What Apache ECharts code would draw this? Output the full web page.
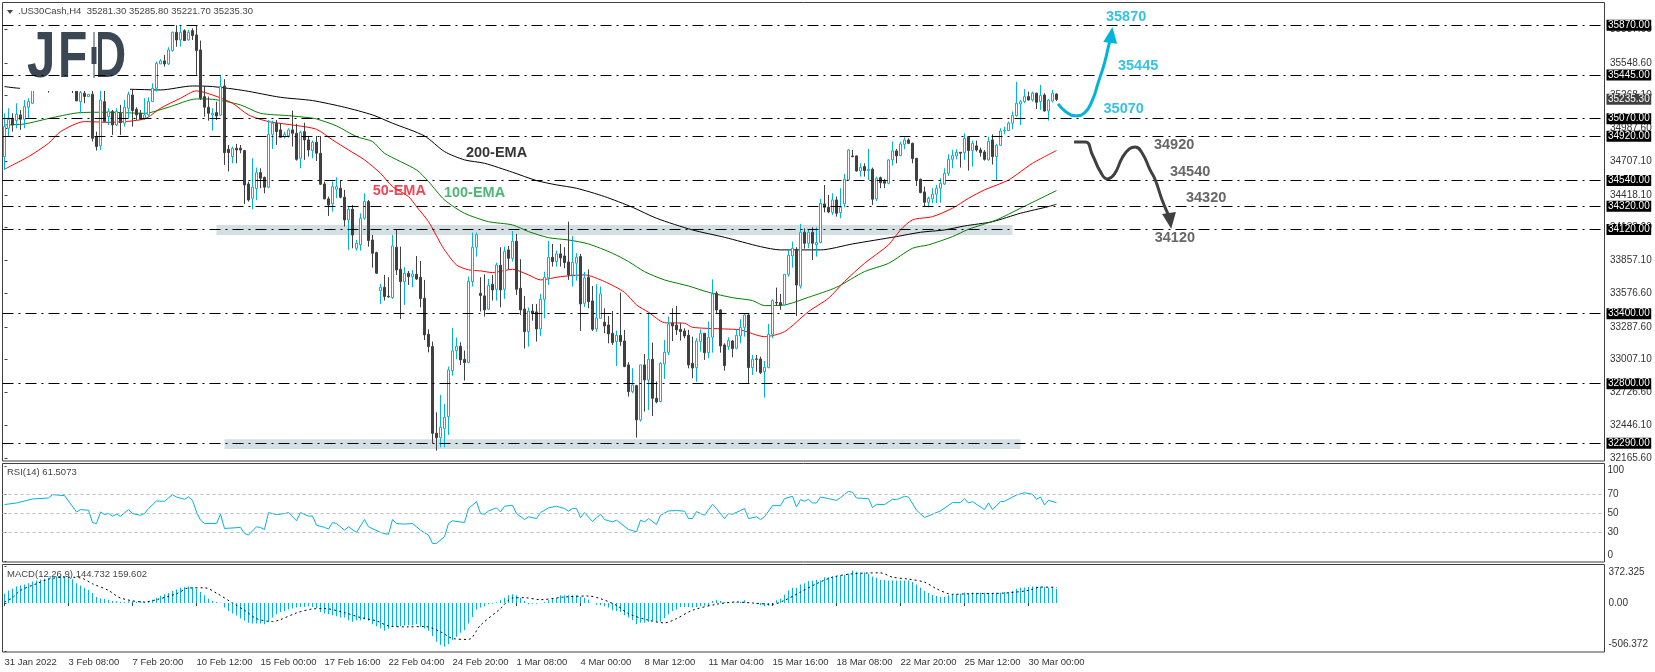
<!DOCTYPE html>
<html>
<head>
<meta charset="utf-8">
<script src="https://cdn.jsdelivr.net/npm/echarts@6/dist/echarts.min.js"></script>
<style>
  html, body { margin: 0; padding: 0; background: #fff; }
  #chart { width: 1655px; height: 672px; }
</style>
</head>
<body>
<div id="chart"></div>
<script>
const FONT = "'Liberation Sans',sans-serif"
const CYAN = '#00b4dc'
const DARK = '#404040'

const dateLabels = ['31 Jan 2022', '3 Feb 08:00', '7 Feb 20:00', '10 Feb 12:00', '15 Feb 00:00', '17 Feb 16:00', '22 Feb 04:00', '24 Feb 20:00', '1 Mar 08:00', '4 Mar 00:00', '8 Mar 12:00', '11 Mar 04:00', '15 Mar 16:00', '18 Mar 08:00', '22 Mar 20:00', '25 Mar 12:00', '30 Mar 00:00']

const priceTicks = [35837.6, 35548.6, 35268.1, 34987.6, 34707.1, 34418.1, 34138.6, 33857.1, 33576.6, 33287.6, 33007.1, 32726.6, 32446.1, 32165.6]
const levels = [35870, 35445, 35070, 34920, 34540, 34320, 34120, 33400, 32800, 32290]
const lastPrice = 35235.3

// open, close, low, high
const candles = [
  [34745,35002,34631,35116],[34988,35065,34916,35159],[35073,35016,34959,35116],[35053,35108,34988,35202],
  [35102,35065,34974,35145],[35065,35173,34988,35230],[35168,35216,35073,35245],[35202,35316,35196,35373],
  [35400,35350,35330,35440],[35360,35410,35335,35450],[35410,35370,35340,35440],[35380,35330,35293,35410],
  [35340,35390,35325,35420],[35390,35350,35330,35430],[35360,35420,35340,35450],[35420,35380,35350,35450],
  [35390,35350,35325,35420],[35360,35325,35290,35400],[35316,35222,35222,35330],[35216,35293,35116,35316],
  [35288,35259,35202,35316],[35259,35279,35259,35279],[35279,34902,34874,35316],[34916,34831,34797,34959],
  [34837,35230,34802,35316],[35216,35045,35045,35316],[35088,35131,35016,35159],[35131,35016,34931,35145],
  [35016,35131,35008,35159],[35116,35036,34931,35188],[35031,35168,35002,35230],[35159,35279,35073,35302],
  [35273,35139,35002,35316],[35151,35102,35059,35168],[35116,35065,35065,35145],[35073,35102,35059,35245],
  [35102,35216,35088,35253],[35216,35330,35216,35373],[35330,35545,35302,35559],[35539,35565,35539,35579],
  [35565,35539,35516,35616],[35539,35659,35530,35682],[35653,35810,35644,35816],[35810,35744,35687,35870],
  [35744,35810,35687,35870],[35824,35739,35739,35836],[35744,35810,35739,35830],[35824,35782,35744,35844],
  [35787,35653,35445,35870],[35659,35245,35230,35739],[35259,35168,35088,35350],[35168,35116,35053,35259],
  [35102,35116,34968,35159],[35122,35093,35059,35216],[35099,35345,35093,35445],[35350,34779,34674,35408],
  [34808,34779,34617,34845],[34745,34817,34688,34831],[34817,34802,34688,34854],[34817,34802,34774,34845],
  [34797,34502,34340,34802],[34511,34374,34360,34531],[34388,34483,34294,34731],[34471,34608,34374,34651],
  [34608,34560,34474,34645],[34568,34483,34431,34574],[34483,34936,34474,35059],[34936,35031,34811,35053],
  [35031,34959,34845,35059],[34974,34911,34911,35031],[34916,34936,34902,34959],[34922,34974,34908,34988],
  [34974,34945,34831,35139],[34945,34722,34711,35025],[34731,34951,34645,34968],[34959,34888,34717,35036],
  [34888,34802,34745,34922],[34797,34868,34731,34882],[34868,34774,34708,34922],[34774,34508,34502,34922],
  [34511,34383,34380,34531],[34383,34331,34237,34403],[34340,34488,34274,34531],[34465,34488,34388,34568],
  [34474,34397,34388,34545],[34397,34203,34146,34460],[34203,34294,33946,34317],[34294,34074,33960,34331],
  [33960,34003,33940,34031],[33989,34217,33940,34260],[34217,34360,34203,34431],[34360,34026,33974,34374],
  [34031,33917,33794,34074],[33923,33746,33740,33931],[33597,33626,33483,33655],[33626,33546,33512,33732],
  [33549,33543,33537,33712],[33537,33980,33526,34074],[33969,33774,33732,34123],[33780,33675,33355,33974],
  [33675,33746,33475,33797],[33746,33717,33646,33766],[33717,33740,33626,33774],[33737,33697,33689,33894],
  [33712,33529,33455,33851],[33532,33218,33175,33689],[33223,33118,33069,33266],[33118,32375,32290,33161],
  [32375,32338,32227,32555],[32338,32427,32256,32704],[32418,32513,32256,32627],[32518,32918,32361,32947],
  [32912,33081,32869,33278],[33084,33121,33009,33195],[33121,33004,32961,33155],[33009,32981,32827,33084],
  [32981,33677,32975,33717],[33675,33969,33632,34094],[33969,34077,33889,34094],[33575,33555,33418,33712],
  [33552,33432,33375,33737],[33438,33643,33432,33697],[33652,33603,33512,33732],[33609,33817,33512,33837],
  [33814,33603,33455,33969],[33609,33934,33526,33974],[33946,33874,33780,33980],[33874,34020,33846,34108],
  [34020,33609,33560,34083],[33617,33432,33389,33866],[33440,33246,33101,33552],[33246,33423,33118,33452],
  [33423,33403,33340,33483],[33415,33269,33161,33483],[33269,33523,33209,33569],[33523,33712,33360,33760],
  [33706,33883,33646,34023],[33883,33846,33803,33997],[33846,33912,33803,33940],[33912,33877,33803,33997],
  [33894,33837,33789,33969],[33843,33732,33689,34188],[33732,33840,33632,34066],[33832,33883,33683,33917],
  [33889,33483,33252,33912],[33489,33706,33455,33757],[33712,33503,33446,33780],[33509,33266,33252,33637],
  [33269,33363,33246,33652],[33360,33569,33360,33632],[33326,33295,33232,33446],[33303,33226,33146,33380],
  [33232,33152,33132,33423],[33161,33215,32952,33255],[33215,33161,33124,33580],[33166,32947,32941,33261],
  [32961,32732,32690,32984],[32732,32790,32718,32932],[32784,32490,32338,32790],[32490,32961,32476,32961],
  [32961,32832,32561,33055],[32832,33009,32575,33403],[33009,32675,32524,33152],[32675,32644,32632,32818],
  [32647,32975,32641,32984],[32969,33069,32841,33175],[33069,33312,33046,33375],[33318,33295,33166,33446],
  [33303,33261,33218,33466],[33266,33246,33169,33318],[33252,33209,33189,33275],[33215,32961,32932,33261],
  [32975,32935,32847,33203],[32938,33166,32818,33189],[33161,33232,33075,33266],[33232,33066,33004,33232],
  [33066,33198,33018,33332],[33198,33569,33066,33694],[33575,33432,33403,33592],[33432,33124,33066,33438],
  [33132,32955,32912,33146],[33118,33169,33089,33198],[33166,33101,33026,33175],[33104,33215,33095,33266],
  [33209,33283,33146,33352],[33283,33389,33203,33403],[33389,32938,32804,33398],[32938,33009,32875,33046],
  [33012,33009,32903,33046],[33012,32895,32884,33032],[32904,32941,32681,32995],[32938,33223,32932,33312],
  [33223,33512,33189,33523],[33497,33492,33466,33623],[33495,33472,33432,33569],[33475,33737,33466,33740],
  [33737,33900,33717,33946],[33894,33960,33794,34017],[33951,33646,33380,33969],[33637,34097,33615,34169],
  [34097,34003,33957,34131],[34003,34097,33960,34117],[34097,34003,33860,34140],[33989,34009,33889,34140],
  [34009,34345,34003,34383],[34340,34311,34268,34502],[34311,34271,34260,34417],[34268,34374,34246,34431],
  [34374,34260,34231,34403],[34265,34311,34217,34474],[34340,34551,34311,34597],[34545,34802,34540,34808],
  [34751,34745,34739,34802],[34751,34622,34617,34754],[34622,34651,34574,34688],[34660,34625,34574,34688],
  [34625,34637,34545,34811],[34637,34380,34331,34651],[34383,34560,34365,34574],[34565,34522,34474,34574],
  [34534,34517,34474,34554],[34517,34717,34508,34722],[34717,34794,34668,34874],[34794,34751,34688,34811],
  [34754,34854,34748,34874],[34851,34888,34808,34911],[34888,34859,34854,34902],[34859,34728,34688,34865],
  [34731,34545,34494,34731],[34551,34437,34431,34557],[34443,34354,34317,34488],[34354,34388,34311,34403],
  [34383,34423,34346,34474],[34423,34474,34346,34502],[34474,34517,34351,34560],[34511,34602,34502,34645],
  [34602,34722,34580,34765],[34722,34754,34645,34802],[34751,34782,34722,34808],[34782,34774,34651,34782],
  [34779,34902,34717,34945],[34916,34797,34625,34922],[34797,34859,34660,34882],[34837,34802,34788,34882],
  [34802,34779,34745,34822],[34785,34722,34711,34802],[34717,34876,34711,34916],[34888,34745,34677,34936],
  [34745,34842,34545,34854],[34842,34965,34837,34988],[34965,34971,34936,35002],[34968,35031,34965,35045],
  [35031,35099,34979,35131],[35096,35202,35088,35385],[35196,35216,35016,35230],[35216,35259,35202,35322],
  [35259,35230,35225,35302],[35230,35288,35216,35302],[35288,35210,35153,35293],[35216,35268,35145,35359],
  [35273,35136,35131,35288],[35136,35230,35053,35239],[35222,35288,35208,35316],[35281.3,35235.3,35221.7,35285.8]
]

// bar index, price
const ema50 = [[0,34637],[6,34745],[11,34859],[14,34959],[20,35045],[26,35039],[35,35068],[39,35159],[44,35245],[48,35308],[52,35273],[57,35202],[61,35102],[66,35045],[72,35016],[78,34979],[82,34888],[86,34802],[90,34717],[94,34602],[97,34488],[101,34403],[103,34317],[106,34188],[109,34003],[110,33946],[113,33817],[116,33775],[119,33766],[122,33752],[127,33780],[131,33732],[134,33689],[139,33717],[145,33732],[150,33675],[155,33583],[158,33475],[161,33412],[165,33323],[170,33318],[172,33283],[180,33269],[184,33261],[190,33203],[195,33246],[201,33418],[206,33532],[210,33675],[215,33831],[221,33989],[224,34117],[227,34203],[232,34231],[237,34303],[241,34388],[245,34460],[251,34545],[257,34688],[263,34797]]
const ema100 = [[0,35016],[5,35025],[12,35079],[19,35122],[26,35125],[35,35116],[41,35168],[48,35239],[52,35236],[59,35188],[64,35116],[71,35096],[76,35079],[78,35068],[83,35008],[88,34916],[92,34874],[95,34774],[103,34631],[106,34531],[110,34374],[115,34260],[121,34188],[127,34160],[131,34103],[136,34051],[141,34031],[146,33997],[152,33917],[156,33846],[160,33760],[165,33689],[171,33637],[176,33583],[182,33537],[187,33512],[190,33469],[195,33475],[201,33540],[208,33626],[215,33760],[221,33831],[227,33960],[231,33989],[237,34060],[241,34123],[248,34203],[254,34303],[263,34454]]
const ema200 = [[0,35345],[4,35330],[31,35322],[39,35316],[47,35350],[52,35345],[60,35310],[69,35253],[77,35225],[85,35168],[92,35102],[97,35031],[105,34922],[110,34788],[115,34717],[120,34688],[127,34611],[133,34540],[138,34503],[143,34474],[150,34403],[157,34311],[163,34217],[172,34117],[180,34054],[189,33974],[194,33946],[204,33946],[212,33997],[223,34060],[229,34097],[235,34117],[240,34151],[247,34188],[254,34260],[261,34317],[263,34337]]

const rsiPoints = [[0,59.5],[3,61.2],[7,65.4],[11,66.5],[12,70],[15,69],[16,63.3],[18,51.7],[19,54.2],[21,53.5],[22,40.5],[23,39.4],[24,51.7],[25,48.9],[26,50],[27,47.2],[28,49.3],[29,47.2],[31,54.2],[32,50],[34,48.2],[35,50],[36,55.3],[38,63.3],[40,63],[42,70],[43,67.5],[45,65.1],[46,67.5],[47,64],[48,51.7],[49,43],[50,39.5],[53,39.5],[54,49.3],[55,34.2],[59,35.3],[60,28.9],[61,27.2],[63,36],[64,35.3],[65,33.1],[66,51],[68,48.9],[70,50],[71,51],[73,42.3],[74,51],[76,47.2],[77,47.5],[78,37.7],[80,35.3],[81,33.5],[82,40.5],[83,39.5],[85,32.4],[86,36],[88,30],[90,43.7],[91,36],[94,30],[96,27.9],[97,43.7],[98,39.5],[100,38.8],[102,39.5],[104,32.4],[106,27.2],[107,18.4],[108,18.4],[110,25.4],[111,39.5],[112,42.3],[115,40.5],[116,55.3],[118,62.6],[119,50],[120,49.3],[121,52.8],[123,56],[124,51.7],[125,57.7],[127,58.8],[128,50],[130,43.7],[131,46.5],[133,44.7],[134,51],[136,56],[138,57.7],[140,55.3],[141,52.5],[142,55.3],[143,55.3],[144,45.8],[145,51],[147,41.6],[149,49.3],[150,43.7],[152,41.2],[153,43],[156,33.1],[158,30.7],[159,43],[160,41.2],[161,44.7],[163,38.4],[164,48.2],[166,52.8],[168,53.2],[170,52.5],[171,44.7],[172,44.7],[173,52.1],[175,48.2],[177,59.8],[178,55.3],[180,44.7],[181,50],[182,49.3],[185,55.3],[186,44.7],[188,46.5],[189,43.7],[190,46.5],[192,58.4],[194,58.4],[195,65.8],[197,68.2],[198,57],[199,64.7],[200,63],[201,65.1],[202,61.2],[203,61.2],[204,67.5],[206,65.8],[208,64],[209,66.8],[211,73.5],[212,72.5],[213,66.5],[216,65.8],[217,56.3],[218,59.8],[220,59.5],[222,65.1],[223,64.7],[225,68.2],[226,67.5],[228,53.5],[230,45.8],[232,49.3],[234,52.8],[237,61.6],[239,61.6],[240,65.8],[241,61.2],[242,62.6],[245,54.2],[246,61.2],[247,54.2],[249,62.6],[250,63],[253,69.6],[255,72.1],[257,70.4],[258,65.1],[259,67.5],[260,59.1],[261,64],[263,61.5]]
const rsiLevels = [70, 50, 30]

const macdBars = [
  94,128,145,169,179,189,202,219,229,239,246,256,263,270,277,270,263,243,202,179,155,135,101,61,47,40,34,20,17,13,10,17,20,13,20,10,20,34,54,74,88,101,121,138,155,162,169,162,142,111,78,44,20,10,3,
  -47,-81,-108,-128,-159,-182,-202,-209,-209,-209,-216,-192,-148,-115,-91,-81,-67,-57,-47,-40,-40,-34,-40,-54,-91,-108,-115,-125,-135,-148,-148,-175,-192,-175,-175,-169,-182,-216,-236,-256,-283,-263,-243,-243,-236,-229,-226,-226,-216,-243,-260,-283,-337,-395,-428,-445,-418,-378,-344,-304,-277,-209,-142,-67,-47,-34,-13,-7,
  7,27,54,78,88,78,54,20,-13,-7,-7,-3,10,
  27,44,54,78,78,78,78,78,61,54,34,0,-17,-24,-34,-47,-74,-81,-91,-125,-148,-175,-216,-202,-202,-192,-182,-192,-192,-155,-115,-81,-67,-40,-40,-40,-47,-40,-34,-27,-24,20,34,20,10,7,7,7,13,27,0,0,-7,-24,-34,-27,0,27,44,84,128,155,155,189,202,223,229,236,229,263,263,270,276,280,287,297,330,317,310,310,297,270,256,236,233,229,229,229,229,229,229,213,189,155,121,101,81,71,61,61,78,88,88,94,108,101,108,105,105,105,105,105,105,105,111,111,121,145,155,159,162,169,169,169,162,155,152,144.7
]
const macdSignal = [[0,10],[2,54],[4,128],[8,196],[11,243],[15,263],[19,256],[22,196],[26,128],[29,51],[35,10],[38,34],[43,94],[46,152],[50,155],[53,101],[57,0],[60,-74],[63,-159],[67,-189],[69,-169],[73,-101],[77,-61],[80,-57],[85,-98],[89,-148],[93,-182],[96,-233],[101,-243],[105,-239],[109,-293],[112,-361],[116,-371],[119,-226],[124,-57],[127,51],[130,54],[134,34],[140,61],[146,71],[149,44],[153,-24],[156,-108],[161,-175],[165,-202],[168,-159],[172,-74],[178,-13],[183,10],[187,0],[192,-13],[195,27],[199,111],[203,196],[207,263],[212,297],[219,307],[222,263],[226,243],[230,212],[233,145],[237,88],[241,94],[250,101],[256,128],[259,162],[263,159.6]]

const rsiLabels = ['100', '70', '50', '30', '0']
const rsiLabelAt = [96, 70, 50, 30, 6]
const rsiTickAt = [100, 70, 50, 30, 0]
const macdLabels = ['372.325', '0.00', '-506.372']
const macdLabelAt = [314, 0, -421]
const macdTickAt = [372.3, 0, -490]

// analyst drawings: bar index, price
const upPath = [[263.4,35196],[265.4,35127],[267.7,35094],[270,35119],[272,35230],[273.4,35376],[275,35547],[276.2,35718],[276.9,35800]]
const upArrow = [276.7,35787]
const downPath = [[267.4,34871],[270.2,34871],[272,34759],[274,34614],[275.7,34554],[277.5,34597],[279.4,34734],[281.2,34811],[282.7,34828],[284.4,34776],[286.4,34631],[287.7,34545],[289.4,34374],[291,34245]]
const downArrow = [291.4,34194]
const bands = [[53,252,34160,34074],[55,254,32324,32241]]

const upLabels = [[280.4,35941,'35870'],[283.4,35521,'35445'],[279.8,35153,'35070']]
const downLabels = [[292.4,34845,'34920'],[296.4,34614,'34540'],[300.4,34391,'34320'],[292.6,34048,'34120']]
const emaLabels = [
  [[123,34776,'200-EMA'], '#000'],
  [[98.7,34451,'50-EMA'], '#e8192c'],
  [[117.5,34434,'100-EMA'], '#1fa650'],
]

const xIndexed = candles.map((c, i) => [i, c[0], c[1], c[2], c[3]])
const dateTicks = dateLabels.map((d, i) => i * 16)

const xBase = (gridIndex, extra) => ({
  type: 'value',
  gridIndex,
  min: -0.5,
  max: 400,
  splitLine: { show: false },
  axisLine: { show: false },
  axisTick: { show: false },
  axisLabel: { show: false },
  ...extra,
})

const priceLine = (data, color, name) => ({
  name,
  type: 'line',
  data,
  showSymbol: false,
  symbol: 'none',
  smooth: 0.25,
  z: 2,
  lineStyle: { color, width: 1 },
})

const textSeries = (data, color) => ({
  type: 'scatter',
  data,
  symbolSize: 1,
  itemStyle: { color: 'rgba(0,0,0,0)' },
  z: 6,
  labelLayout: { hideOverlap: false },
  label: {
    show: true,
    position: 'inside',
    formatter: p => p.data[2],
    color,
    fontFamily: FONT,
    fontWeight: 'bold',
    fontSize: 14.5,
  },
})

const arrowSeries = (path, arrow, color, rotate) => ({
  type: 'line',
  data: path,
  showSymbol: false,
  symbol: 'none',
  smooth: true,
  z: 6,
  lineStyle: { color, width: 3 },
  markPoint: {
    silent: true,
    symbol: 'triangle',
    symbolSize: [14, 16],
    symbolRotate: rotate,
    itemStyle: { color },
    label: { show: false },
    data: [{ coord: arrow }],
  },
})

const chart = echarts.init(document.getElementById('chart'), null, { renderer: 'canvas' })

chart.setOption({
  animation: false,
  backgroundColor: '#fff',
  title: [
    { text: '.US30Cash,H4  35281.30 35285.80 35221.70 35235.30', left: 18, top: 6 },
    { text: 'RSI(14) 61.5073', left: 7, top: 467 },
    { text: 'MACD(12,26,9) 144.732 159.602', left: 7, top: 569 },
  ].map(t => ({ ...t, padding: 0, textStyle: { fontFamily: FONT, fontSize: 9.5, fontWeight: 'normal', color: '#444' } })),
  graphic: [
    { type: 'rect', z: 3, shape: { x: 20, y: 3, width: 110, height: 88 }, style: { fill: '#fff' } },
    { type: 'polygon', z: 4, shape: { points: [[7, 10], [13, 10], [10, 14]] }, style: { fill: '#444' } },
    { type: 'text', z: 4, x: 27, y: 27, scaleX: 0.8, style: { text: 'J', font: 'bold 64px Liberation Sans', fill: '#3b4753' } },
    { type: 'text', z: 4, x: 58, y: 27, scaleX: 0.75, style: { text: 'F', font: 'bold 64px Liberation Sans', fill: '#3b4753' } },
    { type: 'text', z: 4, x: 92, y: 27, scaleX: 0.74, style: { text: 'D', font: 'bold 64px Liberation Sans', fill: '#3b4753' } },
    { type: 'rect', z: 5, shape: { x: 90, y: 30, width: 8, height: 50 }, style: { fill: '#fff' } },
    { type: 'rect', z: 6, shape: { x: 93.5, y: 32, width: 1, height: 46 }, style: { fill: '#3b4753' } },
    { type: 'rect', z: 6, shape: { x: 91.5, y: 47, width: 5, height: 17 }, style: { fill: '#3b4753' } },
  ],
  grid: [
    { left: 2.5, top: 2.5, width: 1602, height: 458.5, show: true, borderColor: DARK, borderWidth: 1 },
    { left: 2.5, top: 463.5, width: 1602, height: 98.5, show: true, borderColor: DARK, borderWidth: 1 },
    { left: 2.5, top: 564.5, width: 1602, height: 87.5, show: true, borderColor: DARK, borderWidth: 1 },
  ],
  xAxis: [
    xBase(0),
    xBase(1),
    xBase(2, {
      axisTick: { show: true, length: 3, customValues: dateTicks, lineStyle: { color: DARK } },
      axisLabel: {
        show: true,
        customValues: dateTicks,
        formatter: v => dateLabels[v / 16],
        align: 'left',
        margin: 5,
        hideOverlap: false,
        color: '#333',
        fontFamily: FONT,
        fontSize: 9.5,
      },
    }),
  ],
  yAxis: [
    {
      type: 'value',
      gridIndex: 0,
      position: 'right',
      min: 32138,
      max: 36065,
      splitLine: { show: false },
      axisLine: { show: false },
      axisTick: { show: true, length: 3, customValues: priceTicks, lineStyle: { color: DARK } },
      axisLabel: {
        customValues: priceTicks,
        formatter: v => v.toFixed(2),
        margin: 5.5,
        color: '#333',
        fontFamily: FONT,
        fontSize: 10,
      },
    },
    {
      type: 'value',
      gridIndex: 1,
      position: 'right',
      min: -1.3,
      max: 103,
      splitLine: { show: false },
      axisLine: { show: false },
      axisTick: { show: true, length: 2, customValues: rsiTickAt, lineStyle: { color: DARK } },
      axisLabel: {
        customValues: rsiLabelAt,
        formatter: v => rsiLabels[rsiLabelAt.indexOf(v)],
        margin: 3,
        color: '#333',
        fontFamily: FONT,
        fontSize: 10,
      },
    },
    {
      type: 'value',
      gridIndex: 2,
      position: 'right',
      min: -499,
      max: 392,
      splitLine: { show: false },
      axisLine: { show: false },
      axisTick: { show: true, length: 2, customValues: macdTickAt, lineStyle: { color: DARK } },
      axisLabel: {
        customValues: macdLabelAt,
        formatter: v => macdLabels[macdLabelAt.indexOf(v)],
        margin: 4,
        color: '#333',
        fontFamily: FONT,
        fontSize: 10,
      },
    },
  ],
  series: [
    {
      name: 'levels',
      type: 'line',
      data: [],
      z: 5,
      markArea: {
        silent: true,
        itemStyle: { color: '#d3dfe2' },
        data: bands.map(b => [{ xAxis: b[0], yAxis: b[2] }, { xAxis: b[1], yAxis: b[3] }]),
      },
      markLine: {
        silent: true,
        symbol: 'none',
        lineStyle: { color: '#000', width: 1.2, type: [11, 5, 2, 5] },
        label: {
          show: true,
          position: 'end',
          distance: 2,
          formatter: p => p.value.toFixed(2),
          color: '#fff',
          backgroundColor: '#000',
          padding: [0, 1.5, 0, 1.5],
          fontFamily: FONT,
          fontSize: 10,
          lineHeight: 11,
        },
        data: levels.map(v => ({ yAxis: v })).concat([{
          yAxis: lastPrice,
          lineStyle: { color: 'rgba(0,0,0,0)' },
          label: { backgroundColor: DARK },
        }]),
      },
    },
    {
      name: 'price',
      type: 'candlestick',
      data: xIndexed,
      barWidth: 3,
      z: 2,
      itemStyle: { color: '#fff', color0: DARK, borderColor: CYAN, borderColor0: DARK, borderWidth: 1 },
    },
    priceLine(ema200, '#000', '200-EMA'),
    priceLine(ema100, '#008000', '100-EMA'),
    priceLine(ema50, '#ff0000', '50-EMA'),
    arrowSeries(upPath, upArrow, CYAN, -8),
    arrowSeries(downPath, downArrow, DARK, 188),
    textSeries(upLabels, CYAN),
    textSeries(downLabels, DARK),
    ...emaLabels.map(e => textSeries([e[0]], e[1])),
    {
      name: 'RSI',
      type: 'line',
      xAxisIndex: 1,
      yAxisIndex: 1,
      data: rsiPoints,
      showSymbol: false,
      symbol: 'none',
      lineStyle: { color: CYAN, width: 1 },
      markLine: {
        silent: true,
        symbol: 'none',
        label: { show: false },
        lineStyle: { color: '#bcbcbc', width: 1, type: [3, 3] },
        data: rsiLevels.map(v => ({ yAxis: v })),
      },
    },
    {
      name: 'MACD',
      type: 'bar',
      xAxisIndex: 2,
      yAxisIndex: 2,
      data: macdBars.map((v, i) => [i, v]),
      barWidth: 1,
      itemStyle: { color: CYAN },
    },
    {
      name: 'Signal',
      type: 'line',
      xAxisIndex: 2,
      yAxisIndex: 2,
      data: macdSignal,
      showSymbol: false,
      symbol: 'none',
      smooth: 0.3,
      z: 3,
      lineStyle: { color: '#000', width: 1, type: [2, 3] },
    },
  ],
})
</script>
</body>
</html>
